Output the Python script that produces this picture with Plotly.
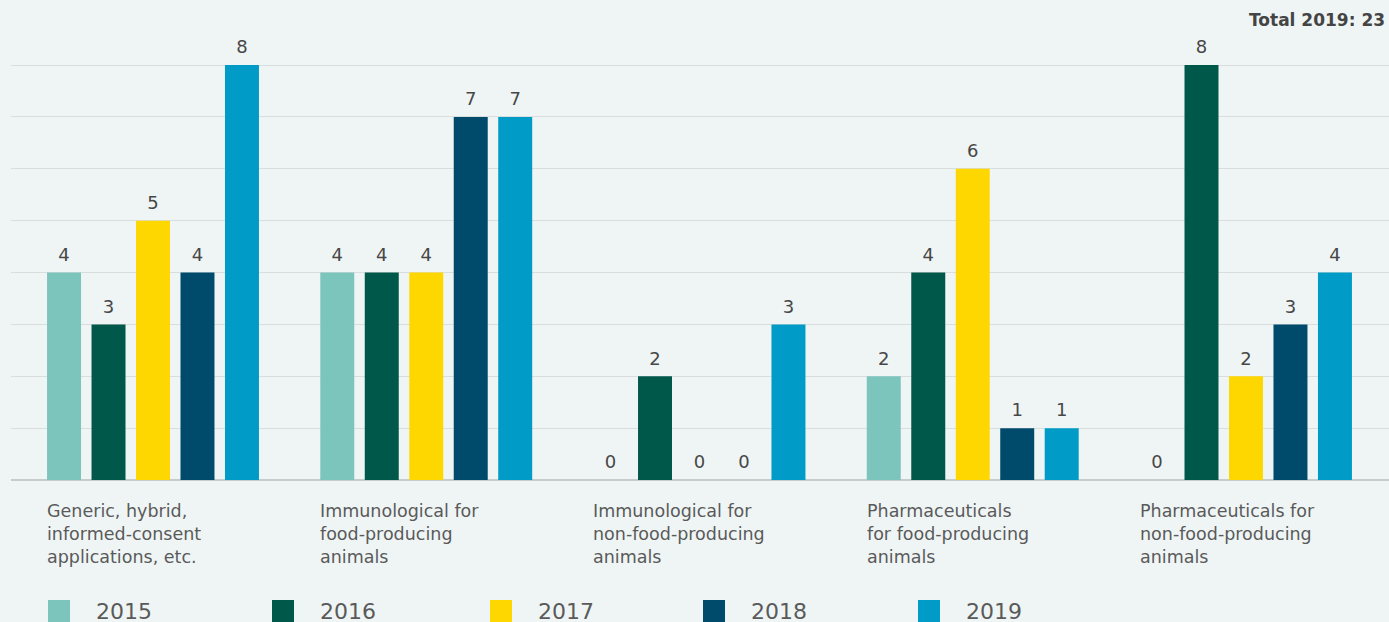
import plotly.graph_objects as go

# Categories of applications and yearly counts
categories = [
    "Generic, hybrid,<br>informed-consent<br>applications, etc.",
    "Immunological for<br>food-producing<br>animals",
    "Immunological for<br>non-food-producing<br>animals",
    "Pharmaceuticals<br>for food-producing<br>animals",
    "Pharmaceuticals for<br>non-food-producing<br>animals",
]
years = ["2015", "2016", "2017", "2018", "2019"]
values = {
    "2015": [4, 4, 0, 2, 0],
    "2016": [3, 4, 2, 4, 8],
    "2017": [5, 4, 0, 6, 2],
    "2018": [4, 7, 0, 1, 3],
    "2019": [8, 7, 3, 1, 4],
}
colors = {
    "2015": "#7cc5bd",
    "2016": "#00584a",
    "2017": "#ffd700",
    "2018": "#004b6b",
    "2019": "#009bc6",
}
total_label = "Total 2019: " + str(sum(values["2019"]))

FONT = "DejaVu Sans, Verdana, sans-serif"
TEXT = "#5a5a5a"
BG = "#eff5f5"

W, H = 1389, 622
ML, MR, MT, MB = 11, 0, 64, 142
PW, PH = W - ML - MR, H - MT - MB


def px_x(px):
    return (px - ML) / PW


def px_y(py):
    return (H - MB - py) / PH


cat_idx = list(range(len(categories)))

fig = go.Figure()
for y in years:
    fig.add_trace(go.Bar(
        x=cat_idx, y=values[y], name=y,
        marker=dict(color=colors[y], line=dict(width=0)),
        showlegend=False, hoverinfo="skip",
    ))
# value labels, grouped the same way as the bars; the transparent marker
# only sets how far the text sits above each bar top
for y in years:
    fig.add_trace(go.Scatter(
        x=cat_idx, y=values[y], mode="markers+text",
        text=[str(v) for v in values[y]],
        textposition="top center",
        marker=dict(size=10, color="rgba(0,0,0,0)", line=dict(width=0)),
        textfont=dict(family=FONT, size=18, color="#474747"),
        cliponaxis=False, showlegend=False, hoverinfo="skip",
    ))

# Category labels under each group, left-aligned with the first bar
for i, c in enumerate(categories):
    fig.add_annotation(
        x=i, y=0, xref="x", yref="y", text=c, showarrow=False,
        xanchor="left", yanchor="top", align="left",
        xshift=-108, yshift=-19,
        font=dict(family=FONT, size=17.5, color=TEXT),
    )

# Legend row drawn along the bottom
leg_x = [48, 272, 490, 703, 918]
for lx, y in zip(leg_x, years):
    fig.add_shape(
        type="rect", xref="paper", yref="paper",
        x0=px_x(lx), x1=px_x(lx + 22),
        y0=px_y(600), y1=px_y(630),
        fillcolor=colors[y], line=dict(width=0),
    )
    fig.add_annotation(
        x=px_x(lx + 46), y=px_y(611),
        xref="paper", yref="paper", text=y, showarrow=False,
        xanchor="left", yanchor="middle",
        font=dict(family=FONT, size=22, color=TEXT),
    )

fig.add_annotation(
    x=px_x(1387), y=px_y(20), xref="paper", yref="paper",
    text="<b>" + total_label + "</b>",
    showarrow=False, xanchor="right", yanchor="middle",
    font=dict(family=FONT, size=17, color="#444444"),
)

fig.update_layout(
    width=W, height=H,
    margin=dict(l=ML, r=MR, t=MT, b=MB),
    paper_bgcolor=BG, plot_bgcolor=BG,
    barmode="group", bargap=0.186, bargroupgap=0.236,
    scattermode="group", scattergap=0.186,
    xaxis=dict(range=[-0.5197, 4.5234], showticklabels=False, showgrid=False,
               zeroline=False, showline=False, ticks=""),
    yaxis=dict(range=[0, 8.02], dtick=1, showticklabels=False,
               gridcolor="#d9dddd", gridwidth=1,
               zeroline=True, zerolinecolor="#c8cbcb", zerolinewidth=2,
               showline=False, ticks=""),
)

fig.write_html("out.html")
